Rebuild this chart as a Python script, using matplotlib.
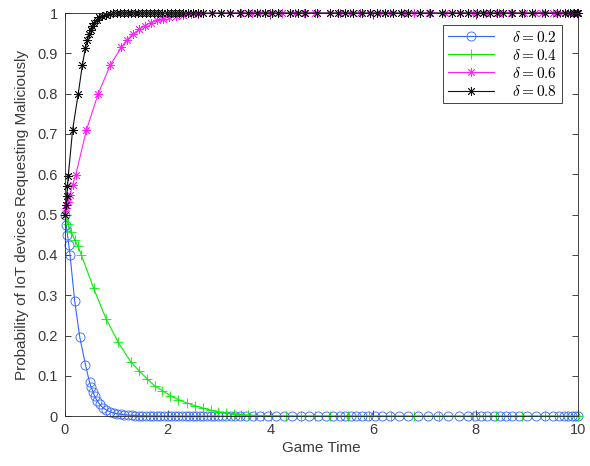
import matplotlib
matplotlib.use("Agg")
import matplotlib.pyplot as plt

# delta = 0.2 (blue circles)
t_blue = [0, 0.025, 0.05, 0.075, 0.1, 0.19, 0.29, 0.40, 0.48, 0.51,
          0.55, 0.58, 0.63, 0.68, 0.74, 0.81, 0.88, 0.95, 1.02, 1.09,
          1.16, 1.23, 1.30, 1.37, 1.44, 1.51, 1.58, 1.65, 1.72, 1.79,
          1.86, 1.93, 2.00, 2.07, 2.14, 2.21, 2.28, 2.35, 2.42, 2.49,
          2.56, 2.63, 2.70, 2.77, 2.84, 2.91, 2.98, 3.06, 3.14, 3.23,
          3.32, 3.42, 3.53, 3.67, 3.81, 3.96, 4.11, 4.27, 4.43, 4.59,
          4.76, 4.93, 5.09, 5.23, 5.35, 5.46, 5.57, 5.68, 5.79, 5.91,
          6.04, 6.18, 6.34, 6.51, 6.69, 6.88, 7.07, 7.27, 7.47, 7.67,
          7.85, 7.99, 8.11, 8.23, 8.35, 8.47, 8.59, 8.71, 8.85, 9.01,
          9.18, 9.35, 9.51, 9.63, 9.73, 9.81, 9.88, 9.94, 10.0]
y_blue = [0.5, 0.475, 0.45, 0.425, 0.40, 0.286, 0.196, 0.128, 0.084, 0.072,
          0.060, 0.049, 0.038, 0.029, 0.021, 0.015, 0.011, 0.008, 0.006, 0.0045,
          0.0034, 0.0026, 0.0019, 0.0014, 0.0010, 0.0008, 0.0006, 0.0004, 0.0003, 0.0002,
          0.0002, 0.0001, 0.0001, 0, 0, 0, 0, 0, 0, 0,
          0, 0, 0, 0, 0, 0, 0, 0, 0, 0,
          0, 0, 0, 0, 0, 0, 0, 0, 0, 0,
          0, 0, 0, 0, 0, 0, 0, 0, 0, 0,
          0, 0, 0, 0, 0, 0, 0, 0, 0, 0,
          0, 0, 0, 0, 0, 0, 0, 0, 0, 0,
          0, 0, 0, 0, 0, 0, 0, 0, 0]

# delta = 0.4 (green plus)
t_green = [0, 0.06, 0.12, 0.19, 0.25, 0.32, 0.56, 0.80, 1.04, 1.28,
           1.45, 1.60, 1.75, 1.90, 2.05, 2.21, 2.37, 2.53, 2.69, 2.84,
           2.99, 3.14, 3.29, 3.43, 3.57, 3.71, 3.85, 4.02, 4.30, 4.60,
           4.88, 5.17, 5.52, 5.92, 6.36, 6.80, 7.28, 7.95, 8.39, 8.91,
           9.35, 9.79, 10.0]
y_green = [0.5, 0.477, 0.456, 0.438, 0.422, 0.400, 0.317, 0.242, 0.183, 0.135,
           0.112, 0.093, 0.075, 0.063, 0.051, 0.041, 0.033, 0.026, 0.020, 0.015,
           0.011, 0.008, 0.006, 0.004, 0.003, 0.002, 0.0015, 0.001, 0.0005, 0.0003,
           0.0002, 0.0001, 0, 0, 0, 0, 0, 0, 0, 0,
           0, 0, 0]

# delta = 0.6 (magenta asterisks)
t_mag = [0, 0.03, 0.06, 0.10, 0.15, 0.21, 0.42, 0.65, 0.88, 1.10,
         1.21, 1.33, 1.45, 1.56, 1.67, 1.79, 1.91, 2.03, 2.17, 2.31,
         2.45, 2.60, 2.86, 3.05, 3.22, 3.44, 3.64, 3.80, 4.00, 4.22,
         4.48, 4.65, 4.87, 5.17, 5.36, 5.56, 5.75, 5.95, 6.14, 6.34,
         6.60, 6.80, 7.10, 7.40, 7.70, 7.95, 8.20, 8.45, 8.70, 8.95,
         9.15, 9.30, 9.50, 9.65, 9.80, 9.90, 10.0]
y_mag = [0.5, 0.516, 0.531, 0.549, 0.574, 0.598, 0.71, 0.80, 0.870, 0.915,
         0.934, 0.948, 0.960, 0.969, 0.976, 0.982, 0.986, 0.990, 0.993, 0.995,
         0.997, 0.998, 0.999, 1, 1, 1, 1, 1, 1, 1,
         1, 1, 1, 1, 1, 1, 1, 1, 1, 1,
         1, 1, 1, 1, 1, 1, 1, 1, 1, 1,
         1, 1, 1, 1, 1, 1, 1]

# delta = 0.8 (black asterisks)
t_black = [0, 0.016, 0.033, 0.05, 0.065, 0.15, 0.26, 0.34, 0.40, 0.44,
           0.47, 0.50, 0.53, 0.57, 0.62, 0.67, 0.73, 0.80, 0.87, 0.94,
           1.01, 1.08, 1.15, 1.22, 1.29, 1.36, 1.43, 1.50, 1.58, 1.66,
           1.74, 1.82, 1.90, 1.98, 2.06, 2.14, 2.22, 2.30, 2.40, 2.50,
           2.60, 2.70, 2.86, 3.05, 3.22, 3.41, 3.57, 3.74, 3.90, 4.03,
           4.16, 4.39, 4.55, 4.68, 4.92, 5.17, 5.33, 5.46, 5.62, 5.78,
           5.95, 6.08, 6.24, 6.40, 6.55, 6.69, 6.92, 7.12, 7.34, 7.54,
           7.70, 7.86, 8.02, 8.15, 8.28, 8.41, 8.54, 8.71, 8.90, 9.10,
           9.35, 9.58, 9.75, 9.84, 9.91, 9.97, 10.0]
y_black = [0.5, 0.523, 0.547, 0.570, 0.595, 0.71, 0.80, 0.871, 0.914, 0.933,
           0.947, 0.958, 0.967, 0.975, 0.983, 0.989, 0.993, 0.996, 0.998, 0.999,
           0.9995, 1, 1, 1, 1, 1, 1, 1, 1, 1,
           1, 1, 1, 1, 1, 1, 1, 1, 1, 1,
           1, 1, 1, 1, 1, 1, 1, 1, 1, 1,
           1, 1, 1, 1, 1, 1, 1, 1, 1, 1,
           1, 1, 1, 1, 1, 1, 1, 1, 1, 1,
           1, 1, 1, 1, 1, 1, 1, 1, 1, 1,
           1, 1, 1, 1, 1, 1, 1]

labels = [r"$\delta = 0.2$", r"$\delta = 0.4$", r"$\delta = 0.6$", r"$\delta = 0.8$"]
x_ticks = [0, 2, 4, 6, 8, 10]
y_ticks = [0, 0.1, 0.2, 0.3, 0.4, 0.5, 0.6, 0.7, 0.8, 0.9, 1]
y_ticklabels = ["0", "0.1", "0.2", "0.3", "0.4", "0.5", "0.6", "0.7", "0.8", "0.9", "1"]

plt.rcParams["font.family"] = ["Liberation Sans", "DejaVu Sans"]
plt.rcParams["mathtext.fontset"] = "cm"

AX_COLOR = "#262626"
TXT_COLOR = "#3a3a3a"
asterisk = (8, 2, 0)

fig = plt.figure(figsize=(5.9, 4.66), dpi=100)
ax = fig.add_axes([0.110, 0.107, 0.870, 0.865])

series = [
    (t_blue, y_blue, "#3366ff", "o", 6.5),
    (t_green, y_green, "#00ee00", "+", 7),
    (t_mag, y_mag, "#ff22ff", asterisk, 6.5),
    (t_black, y_black, "#101010", asterisk, 6.5),
]
for (t, y, c, m, ms), lab in zip(series, labels):
    ax.plot(t, y, color=c, lw=0.8, marker=m, ms=ms, mfc="none", mec=c,
            mew=0.6, label=lab, clip_on=False)

ax.set_xlim(0, 10)
ax.set_ylim(0, 1)
ax.set_xticks(x_ticks)
ax.set_yticks(y_ticks)
ax.set_yticklabels(y_ticklabels)
ax.tick_params(direction="in", length=4, width=0.6, color=AX_COLOR,
               labelcolor=TXT_COLOR, labelsize=10.5, top=True, right=True, pad=5)
for sp in ax.spines.values():
    sp.set_color(AX_COLOR)
    sp.set_linewidth(0.6)

ax.set_xlabel("Game Time", fontsize=11, color=TXT_COLOR, labelpad=3)
ax.set_ylabel("Probability of IoT devices Requesting Maliciously", fontsize=11,
              color=TXT_COLOR, labelpad=6)

leg = ax.legend(loc="upper right", bbox_to_anchor=(0.968, 0.970), fontsize=11,
                handlelength=3.0, handletextpad=1.2, borderpad=0.3,
                labelspacing=0.2, fancybox=False, framealpha=1,
                edgecolor=AX_COLOR, borderaxespad=0)
leg.get_frame().set_linewidth(0.6)

fig.savefig("out.png", dpi=100)
